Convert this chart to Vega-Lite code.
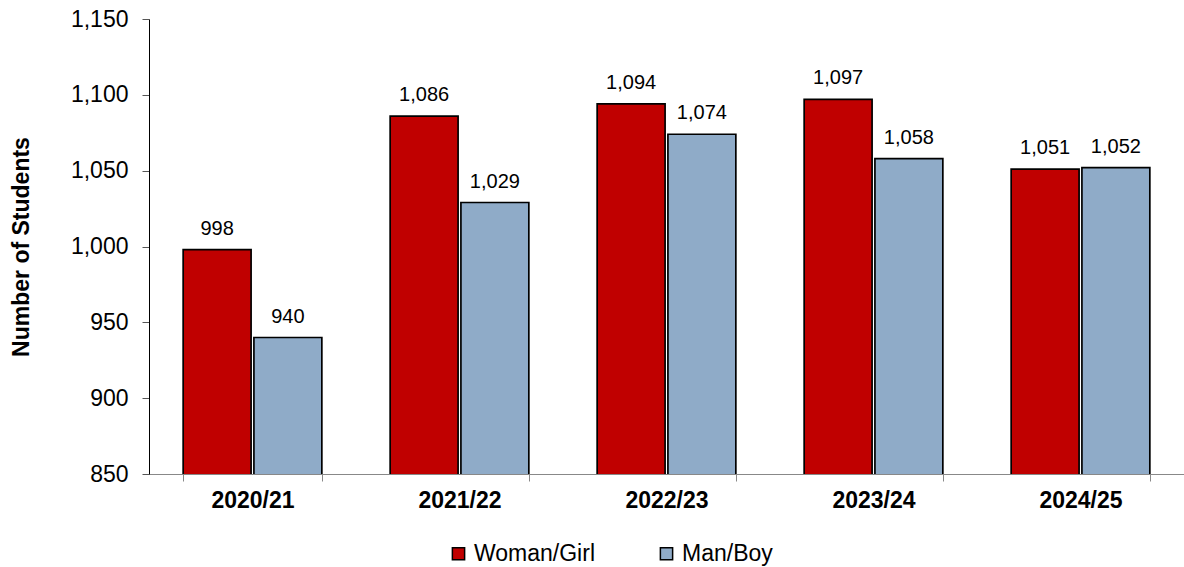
{
  "$schema": "https://vega.github.io/schema/vega-lite/v6.json",
  "width": 1035,
  "height": 455,
  "autosize": {"type": "none"},
  "padding": {"left": 149, "top": 19, "right": 0, "bottom": 93},
  "config": {"font": "Liberation Sans", "view": {"stroke": null}},
  "data": {"values": [
    {"year": "2020/21", "group": "Woman/Girl", "value": 998},
    {"year": "2020/21", "group": "Man/Boy", "value": 940},
    {"year": "2021/22", "group": "Woman/Girl", "value": 1086},
    {"year": "2021/22", "group": "Man/Boy", "value": 1029},
    {"year": "2022/23", "group": "Woman/Girl", "value": 1094},
    {"year": "2022/23", "group": "Man/Boy", "value": 1074},
    {"year": "2023/24", "group": "Woman/Girl", "value": 1097},
    {"year": "2023/24", "group": "Man/Boy", "value": 1058},
    {"year": "2024/25", "group": "Woman/Girl", "value": 1051},
    {"year": "2024/25", "group": "Man/Boy", "value": 1052}
  ]},
  "encoding": {
    "x": {"field": "year", "type": "nominal", "sort": null,
      "scale": {"paddingInner": 0.33, "paddingOuter": 0.165},
      "axis": {"title": null, "labelAngle": 0, "labelFontSize": 23, "labelFontWeight": "bold", "labelColor": "#000", "labelPadding": 8,
        "domainColor": "#888", "tickColor": "#888", "tickSize": 7, "tickBand": "extent"}},
    "xOffset": {"field": "group", "type": "nominal", "sort": ["Woman/Girl", "Man/Boy"], "scale": {"paddingInner": 0.04, "paddingOuter": 0}},
    "y": {"field": "value", "type": "quantitative",
      "scale": {"domain": [850, 1150], "zero": false, "nice": false},
      "axis": {"title": "Number of Students", "titleFontSize": 23, "titleFontWeight": "bold", "titleColor": "#000", "titlePadding": 37,
        "values": [850, 900, 950, 1000, 1050, 1100, 1150], "format": ",d", "labelFontSize": 23, "labelColor": "#000", "labelPadding": 14,
        "grid": false, "domainColor": "#000", "tickColor": "#555", "tickSize": 7}}
  },
  "layer": [
    {"mark": {"type": "bar", "stroke": "#000", "strokeWidth": 1.7, "clip": true},
     "encoding": {
       "color": {"field": "group", "type": "nominal", "sort": ["Woman/Girl", "Man/Boy"],
         "scale": {"domain": ["Woman/Girl", "Man/Boy"], "range": ["#C00000", "#8FABC8"]},
         "legend": {"title": null, "orient": "none", "direction": "horizontal", "legendX": 298, "legendY": 523,
           "symbolType": "square", "symbolSize": 150, "symbolStrokeColor": "#000", "symbolStrokeWidth": 1.5,
           "labelFontSize": 23, "labelColor": "#000", "columnPadding": 60, "labelOffset": 4}}
     }},
    {"mark": {"type": "text", "baseline": "alphabetic", "dy": -15, "fontSize": 20, "color": "#000"},
     "encoding": {"text": {"field": "value", "type": "quantitative", "format": ",d"}}}
  ]
}
